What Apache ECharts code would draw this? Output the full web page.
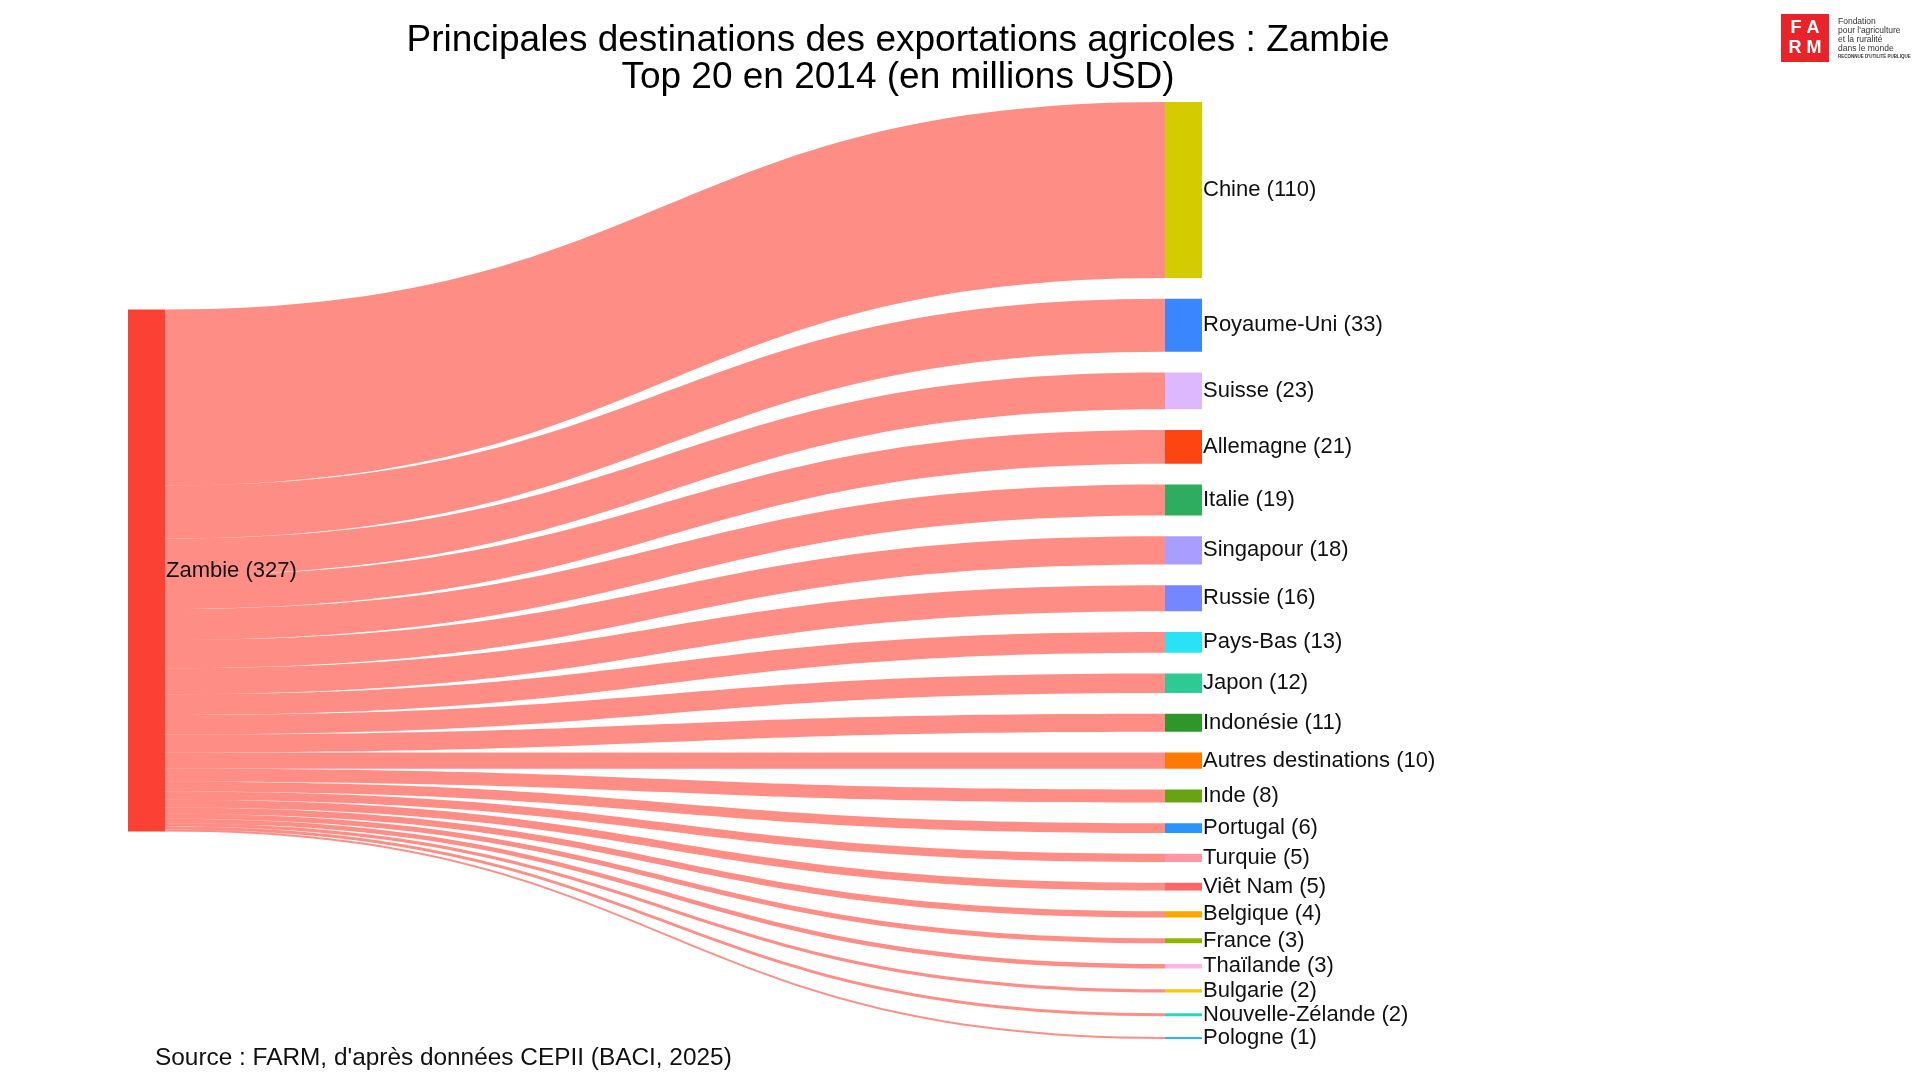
<!DOCTYPE html>
<html>
<head>
<meta charset="utf-8">
<script src="https://cdn.jsdelivr.net/npm/echarts@6/dist/echarts.min.js"></script>
<style>
html,body{margin:0;padding:0;background:#fff;}
#chart{width:1920px;height:1080px;}
</style>
</head>
<body>
<div id="chart"></div>
<script>
// ---- data ----
const sourceName = 'Zambie';
const destinations = ['Chine','Royaume-Uni','Suisse','Allemagne','Italie','Singapour','Russie','Pays-Bas','Japon','Indonésie','Autres destinations','Inde','Portugal','Turquie','Viêt Nam','Belgique','France','Thaïlande','Bulgarie','Nouvelle-Zélande','Pologne'];
const values = [110.3,33.2,23.1,21.2,19.3,17.8,16.2,13.1,12.2,11.3,10.2,8.1,6.2,5.1,4.8,3.9,3.2,2.8,2.1,1.9,1.2];
const nodeColors = ['#D4CC00','#3A86FF','#DDB8FF','#FC4510','#2EAD5E','#A99EFF','#7587FF','#28E2F5','#2FC993','#2F962B','#FF7800','#68A312','#2794FF','#FF97A4','#FF6565','#FFA500','#8DB600','#FFB5E8','#FFC400','#27D6C8','#26B2FF'];
const sourceColor = '#FB4134';
const titleLines = ['Principales destinations des exportations agricoles : Zambie','Top 20 en 2014 (en millions USD)'];
const sourceNote = "Source : FARM, d'après données CEPII (BACI, 2025)";

// ---- layout parameters ----
const areaTop = 102, areaHeight = 937, gap = 20.75;
const total = values.reduce((a,b)=>a+b,0);
const ky = (areaHeight - (destinations.length - 1) * gap) / total;
// invisible spacer above the source node so the source is vertically centred
const spacerValue = (((destinations.length - 1) * gap) / 2 - gap) / ky;

const FONT = '"Liberation Sans", Arial, sans-serif';

const nodes = [
  {name: '__spacer__', depth: 0, value: spacerValue,
   itemStyle: {color: 'rgba(0,0,0,0)'}, label: {show: false}, tooltip: {show: false}},
  {name: sourceName, depth: 0, itemStyle: {color: sourceColor}}
];
destinations.forEach((d, i) => nodes.push({name: d, depth: 1, itemStyle: {color: nodeColors[i]}}));
const links = destinations.map((d, i) => ({source: sourceName, target: d, value: values[i]}));

const chart = echarts.init(document.getElementById('chart'), null, {renderer: 'canvas'});
chart.setOption({
  backgroundColor: '#ffffff',
  animation: false,
  title: {
    text: titleLines.join('\n'),
    left: 893, top: 17, textAlign: 'center',
    textStyle: {fontFamily: FONT, fontSize: 37, fontWeight: 'normal', color: '#000', lineHeight: 37}
  },
  series: [{
    type: 'sankey',
    left: 128, top: areaTop, width: 1074, height: areaHeight,
    nodeWidth: 37, nodeGap: gap,
    layoutIterations: 0, nodeAlign: 'left',
    draggable: false,
    emphasis: {disabled: true},
    data: nodes,
    links: links,
    itemStyle: {borderWidth: 0},
    lineStyle: {color: sourceColor, opacity: 0.6, curveness: 0.5},
    label: {
      show: true, position: 'right', distance: 1,
      fontFamily: FONT, fontSize: 22, color: '#111',
      formatter: p => p.name + ' (' + Math.round(p.value) + ')'
    }
  }],
  graphic: [
    {type: 'text', left: 155, top: 1046,
     style: {text: sourceNote, fontFamily: FONT, fontSize: 24.4, fill: '#111'}},
    {type: 'group', left: 1781, top: 14, children: [
      {type: 'rect', shape: {x: 0, y: 0, width: 48, height: 48}, style: {fill: '#E8232A'}},
      {type: 'text', x: 24, y: 5, style: {text: 'F A', fontFamily: FONT, fontSize: 18, fontWeight: 'bold', fill: '#fff', align: 'center'}},
      {type: 'text', x: 24, y: 25, style: {text: 'R M', fontFamily: FONT, fontSize: 18, fontWeight: 'bold', fill: '#fff', align: 'center'}},
      {type: 'text', x: 57, y: 3, style: {text: 'Fondation', fontFamily: FONT, fontSize: 8.5, fill: '#333'}},
      {type: 'text', x: 57, y: 12, style: {text: "pour l'agriculture", fontFamily: FONT, fontSize: 8.5, fill: '#333'}},
      {type: 'text', x: 57, y: 21, style: {text: 'et la ruralité', fontFamily: FONT, fontSize: 8.5, fill: '#333'}},
      {type: 'text', x: 57, y: 30, style: {text: 'dans le monde', fontFamily: FONT, fontSize: 8.5, fill: '#333'}},
      {type: 'text', x: 57, y: 40, style: {text: "RECONNUE D'UTILITÉ PUBLIQUE", fontFamily: FONT, fontSize: 4.5, fontWeight: 'bold', fill: '#333'}}
    ]}
  ]
});
</script>
</body>
</html>
